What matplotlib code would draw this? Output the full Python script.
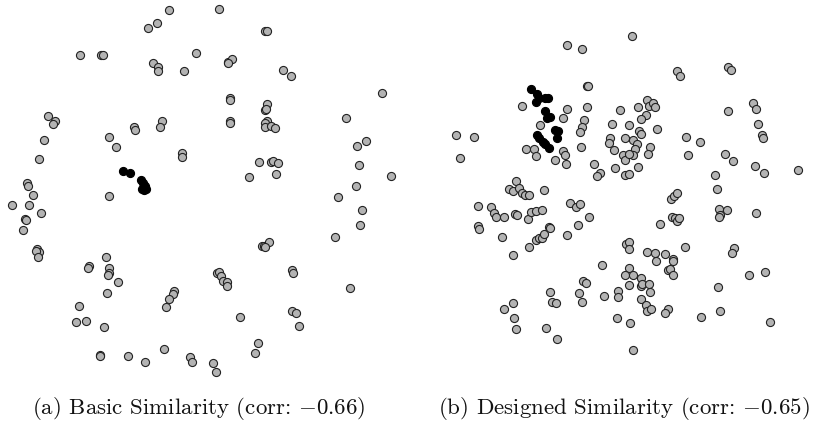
import matplotlib
matplotlib.use("Agg")
import matplotlib.pyplot as plt
import numpy as np

# point positions (pixel-like units, y grows downward)
basic_gray = [
    (169, 10), (157, 23), (148, 28), (80, 55), (101, 55), (103, 55), (196, 53),
    (153, 63), (158, 67), (158, 71), (184, 71), (48, 116), (55, 121), (53, 124),
    (134, 127), (135, 130), (162, 121), (160, 127), (44, 140), (109, 137),
    (116, 147), (182, 153), (182, 157), (39, 159), (27, 183), (28, 186),
    (219, 9), (265, 31), (267, 31), (228, 62), (232, 59), (228, 63), (283, 70),
    (291, 76), (382, 93), (230, 98), (230, 100), (267, 104), (265, 110),
    (266, 109), (230, 121), (230, 123), (267, 121), (265, 123), (265, 127),
    (271, 126), (275, 128), (346, 118), (366, 141), (357, 146), (359, 165),
    (391, 176), (356, 186), (259, 162), (271, 162), (273, 161), (278, 163),
    (249, 177), (276, 174),
    (33, 195), (12, 205), (29, 205), (41, 213), (25, 219), (26, 220), (23, 230),
    (37, 249), (39, 252), (36, 251), (38, 257), (109, 196), (106, 257), (89, 266),
    (88, 268), (109, 268), (109, 273), (108, 275), (118, 282), (107, 293),
    (79, 306), (76, 322), (86, 321), (104, 327), (174, 291), (173, 294),
    (169, 299), (166, 307), (164, 349), (100, 355), (100, 356), (128, 356),
    (145, 362), (190, 357), (192, 362),
    (338, 197), (362, 210), (360, 225), (335, 237), (262, 246), (264, 246),
    (269, 242), (265, 247), (292, 270), (293, 273), (217, 273), (219, 272),
    (221, 276), (223, 281), (227, 282), (227, 286), (350, 288), (240, 317),
    (292, 311), (296, 313), (299, 326), (258, 343), (255, 353), (213, 363),
    (216, 372),
]
basic_black = [
    (123, 171), (130, 173), (141, 180), (143, 183), (145, 186), (146, 189),
    (142, 189), (144, 190),
]

designed_gray = [
    (567, 45), (582, 49), (587, 86), (588, 86), (522, 106), (567, 109), (587, 107),
    (612, 124), (563, 118), (540, 125), (584, 120), (582, 127), (580, 132),
    (456, 135), (474, 137), (460, 158), (526, 149), (534, 149), (536, 156),
    (563, 151), (565, 155), (566, 164), (555, 160), (581, 147), (610, 138),
    (609, 143), (614, 150), (594, 164), (600, 173), (597, 176), (615, 168),
    (632, 36), (677, 71), (680, 76), (728, 67), (731, 70), (620, 110), (638, 107),
    (647, 100), (649, 106), (653, 103), (655, 107), (646, 115), (641, 119),
    (629, 125), (639, 131), (641, 134), (657, 129), (625, 138), (633, 140),
    (637, 144), (635, 149), (633, 155), (650, 147), (648, 154), (623, 155),
    (625, 160), (629, 154), (638, 167), (625, 175), (629, 174), (686, 137),
    (700, 142), (688, 155), (728, 111), (753, 103), (756, 109), (758, 124),
    (762, 135), (763, 138), (725, 154), (733, 161), (755, 166), (764, 173),
    (798, 170), (715, 175),
    (516, 181), (509, 189), (513, 191), (519, 188), (522, 193), (525, 195),
    (529, 195), (544, 190), (478, 206), (491, 207), (494, 213), (496, 217),
    (504, 217), (515, 214), (517, 215), (528, 219), (531, 212), (536, 211),
    (542, 210), (570, 203), (576, 207), (580, 204), (589, 217), (578, 225),
    (567, 235), (478, 226), (479, 229), (502, 237), (513, 255), (529, 247),
    (536, 240), (539, 238), (542, 238), (544, 234), (549, 227), (550, 228),
    (602, 265), (583, 281), (586, 283), (579, 293), (582, 302), (604, 296),
    (618, 291), (618, 297), (550, 292), (552, 302), (556, 303), (513, 303),
    (504, 309), (514, 318), (516, 329), (546, 328), (557, 339), (617, 318),
    (717, 189), (671, 199), (674, 196), (677, 193), (672, 217), (675, 218),
    (677, 221), (679, 218), (660, 224), (719, 209), (727, 210), (720, 215),
    (719, 217), (756, 213), (626, 244), (629, 242), (629, 249), (647, 252),
    (655, 253), (656, 261), (665, 254), (673, 259), (673, 261), (685, 247),
    (734, 248), (732, 253), (629, 268), (625, 275), (633, 275), (641, 278),
    (629, 285), (641, 286), (642, 284), (649, 284), (650, 292), (668, 270),
    (670, 269), (673, 275), (718, 287), (749, 275), (765, 272), (641, 299),
    (646, 305), (647, 311), (651, 309), (668, 309), (665, 313), (701, 317),
    (720, 311), (770, 322), (630, 323), (633, 350),
]
designed_black = [
    (531, 89), (537, 94), (536, 102), (539, 98), (545, 98), (548, 98), (545, 111),
    (547, 118), (550, 117), (555, 130), (558, 131), (557, 138), (537, 135),
    (539, 138), (543, 142), (545, 144), (549, 148),
]

captions = [r"(a) Basic Similarity (corr: $-0.66$)",
            r"(b) Designed Similarity (corr: $-0.65$)"]

plt.rcParams["mathtext.fontset"] = "cm"

W, H = 823, 430
fig = plt.figure(figsize=(W / 100, H / 100), dpi=100)

panels = [(basic_gray, basic_black), (designed_gray, designed_black)]
for i, (gray, black) in enumerate(panels):
    ax = fig.add_axes([i * 0.5, 0, 0.5, 1])
    ax.set_xlim(i * W / 2, (i + 1) * W / 2)
    ax.set_ylim(H, 0)
    ax.axis("off")
    g = np.array(gray)
    b = np.array(black)
    ax.scatter(g[:, 0], g[:, 1], s=34, c="#b3b3b3", edgecolors="#222222",
               linewidths=0.8, zorder=2)
    ax.scatter(b[:, 0], b[:, 1], s=34, c="black", edgecolors="black",
               linewidths=0.8, zorder=3)

cap_x = [199 / W, 624 / W]
for x, txt in zip(cap_x, captions):
    fig.text(x, 1 - 408 / H, txt, ha="center", va="center",
             fontsize=16.5, family="cmr10", color="#111111")

fig.savefig("out.png", dpi=100)
